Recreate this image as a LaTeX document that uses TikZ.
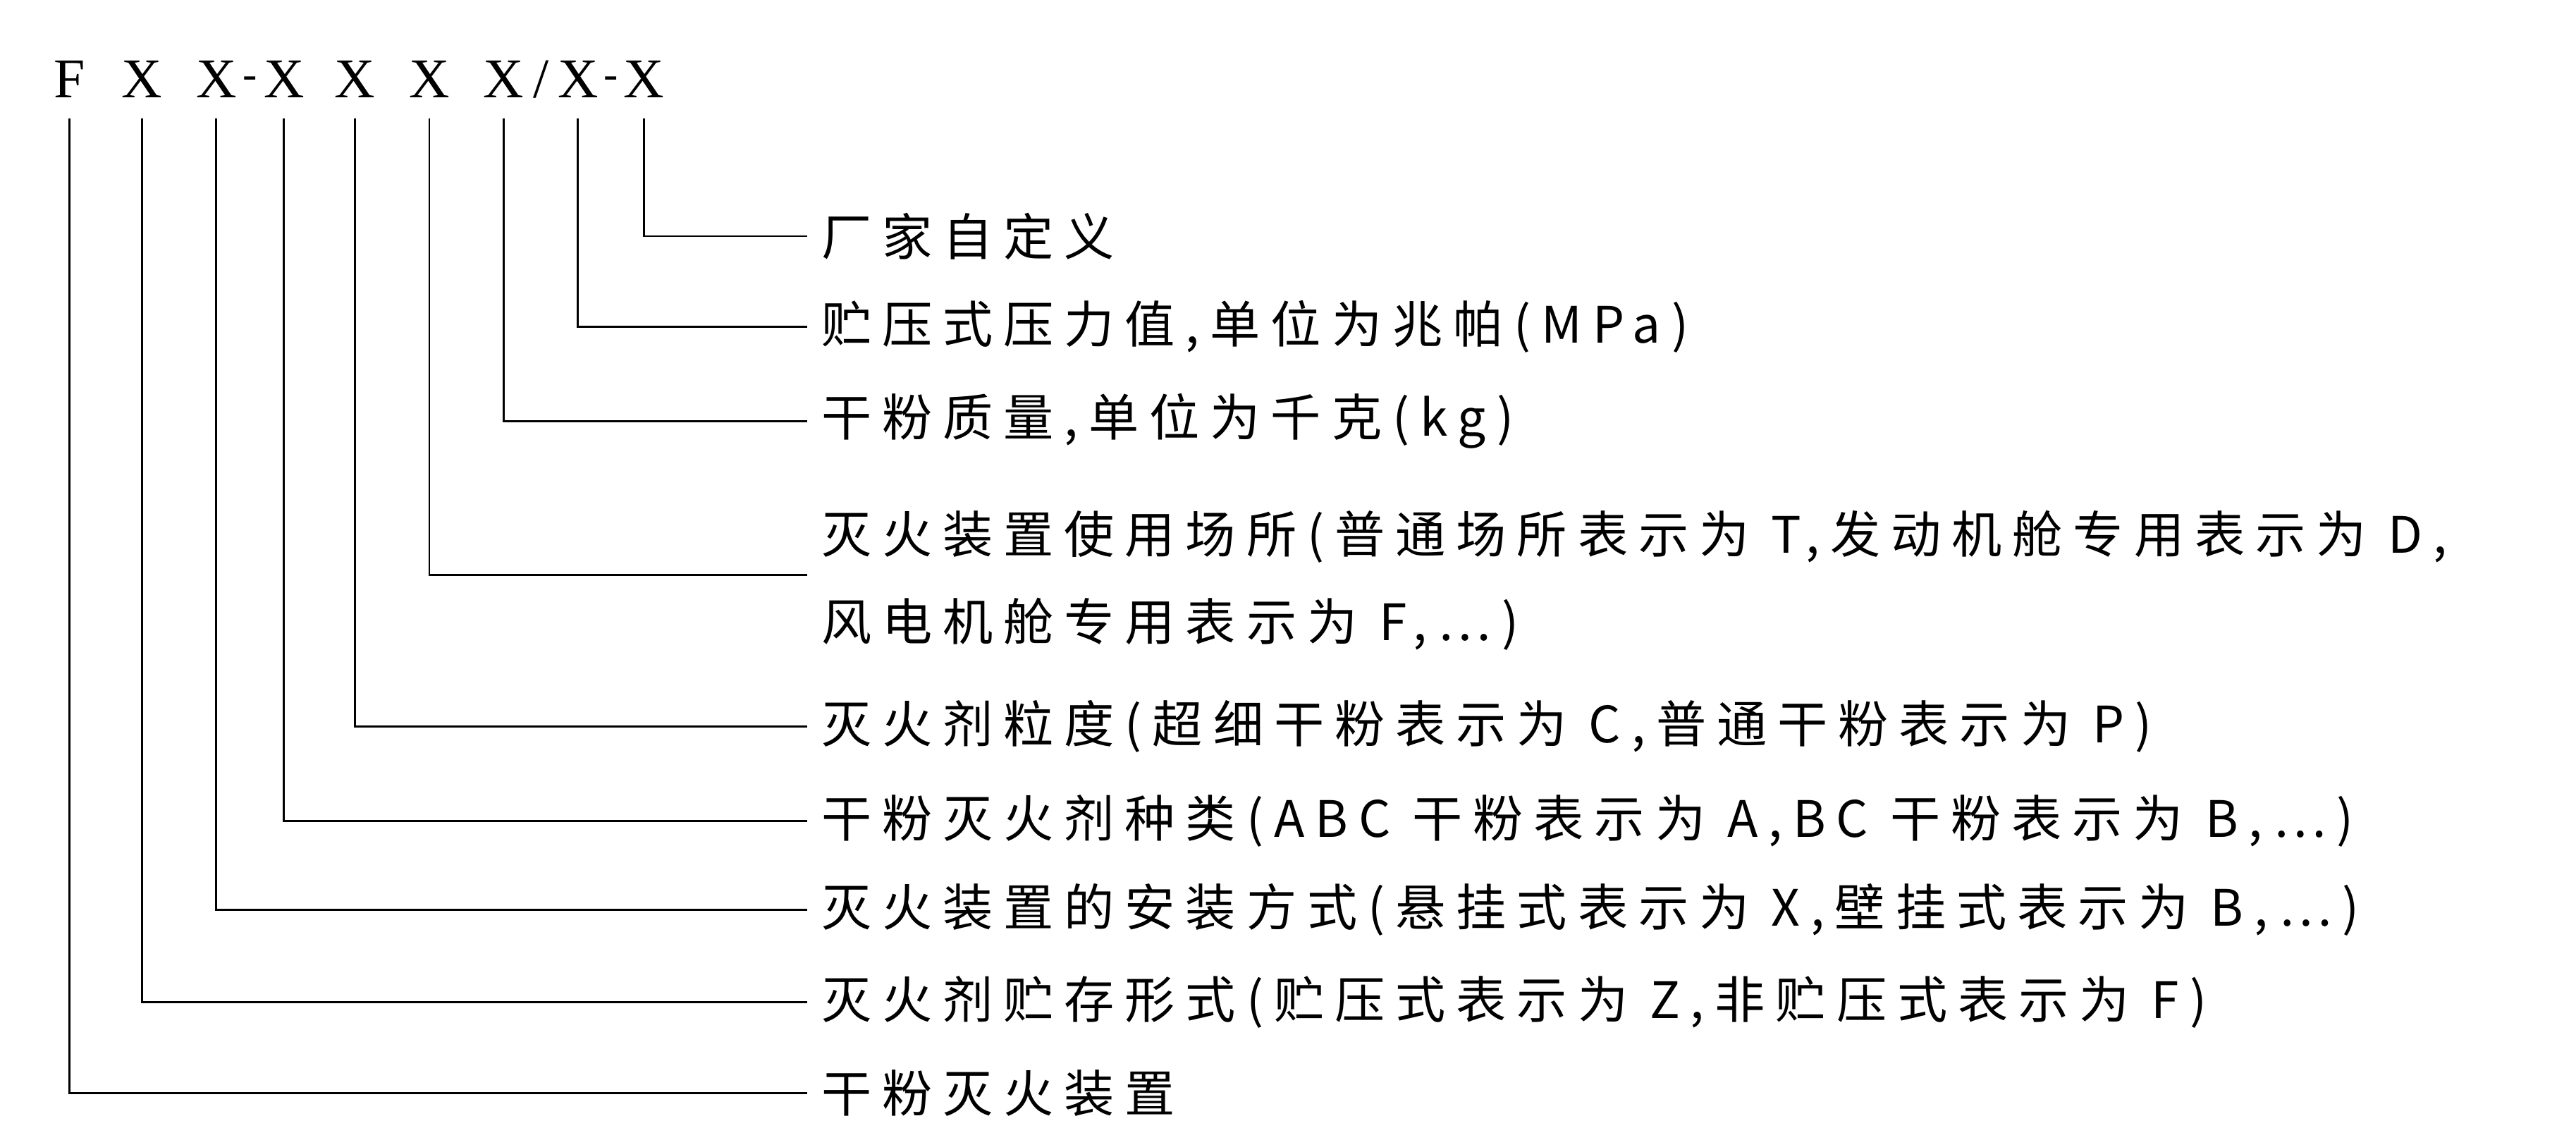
\documentclass[tikz,border=0pt]{standalone}
\usepackage{fontspec}
\setmainfont{Liberation Serif}
\newfontfamily\cjk{Noto Sans CJK SC}[Scale=0.95,LetterSpace=21]
\usetikzlibrary{positioning}
\tikzset{
  lbl/.style={anchor=west,inner sep=0pt,font=\fontsize{16}{22}\selectfont\cjk},
  code/.style={inner sep=0pt,font=\fontsize{17}{20}\selectfont},
  sep/.style={inner sep=0pt,font=\fontsize{13}{20}\selectfont},
  lead/.style={line width=0.6pt}
}
\begin{document}
\begin{tikzpicture}[x=0.5pt,y=-0.5pt]
  \useasboundingbox (0,0) rectangle (1560,690);
  % code letters
  \foreach \name/\x/\t in {c1/42/F,c2/86/X,c3/131/X,c4/172/X,c5/215/X,c6/260/X,c7/305/X,c8/350/X,c9/390/X}
    \node[code] (\name) at (\x,48) {\t};
  \node[sep] (d1) at (151.5,50) {-};
  \node[code] (s1) at (327.5,48) {/};
  \node[sep] (d2) at (370,50) {-};

  % labels
  \node[lbl] (t9) at (497,143) {厂家自定义};
  \node[lbl] (t8) at (497,198) {贮压式压力值,单位为兆帕(MPa)};
  \node[lbl] (t7) at (497,255) {干粉质量,单位为千克(kg)};
  \node[lbl] (t6a) at (497,325) {灭火装置使用场所(普通场所表示为 T,发动机舱专用表示为 D,};
  \node[lbl] (t6b) at (497,378) {风电机舱专用表示为 F,…)};
  \node[lbl] (t5) at (497,440) {灭火剂粒度(超细干粉表示为 C,普通干粉表示为 P)};
  \node[lbl] (t4) at (497,497) {干粉灭火剂种类(ABC 干粉表示为 A,BC 干粉表示为 B,…)};
  \node[lbl] (t3) at (497,551) {灭火装置的安装方式(悬挂式表示为 X,壁挂式表示为 B,…)};
  \node[lbl] (t2) at (497,607) {灭火剂贮存形式(贮压式表示为 Z,非贮压式表示为 F)};
  \node[lbl] (t1) at (497,662) {干粉灭火装置};

  \coordinate (t6) at (497,348);
  % leaders
  \foreach \i in {1,...,9}
    \draw[lead] ([yshift=-6pt]c\i.south) |- ([xshift=-4pt]t\i.west);
\end{tikzpicture}
\end{document}
